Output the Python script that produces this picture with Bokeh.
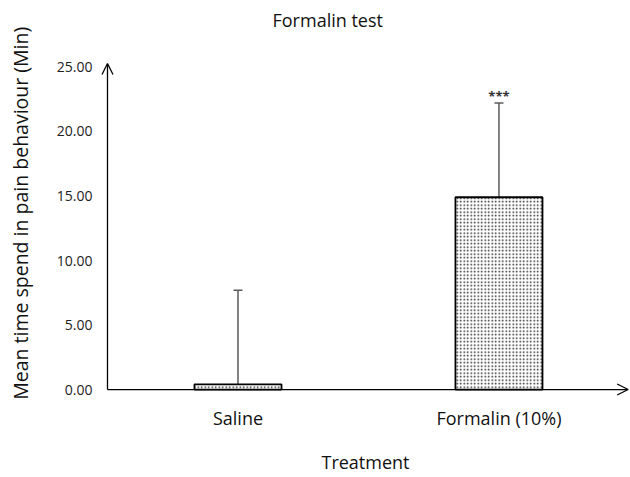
from bokeh.plotting import figure
from bokeh.models import (ColumnDataSource, Whisker, TeeHead, Arrow, OpenHead,
                          FixedTicker, Range1d, Title)
from bokeh.core.properties import value
from bokeh.embed import file_html
from bokeh.resources import INLINE

categories = ["Saline", "Formalin (10%)"]
positions = [1.0, 3.0]
means = [0.4, 14.9]
errors = [7.3, 7.3]
significance = ["", "***"]
y_ticks = [0, 5, 10, 15, 20, 25]
title_text = "Formalin test"
x_title = "Treatment"
y_title = "Mean time spend in pain behaviour (Min)"

FONT = "Open Sans"

src = ColumnDataSource(dict(
    x=positions, top=means,
    upper=[m + e for m, e in zip(means, errors)],
    star_y=[m + e - 0.15 for m, e in zip(means, errors)],
    sig=significance,
))

p = figure(width=630, height=477, output_backend="svg", toolbar_location=None,
           x_range=Range1d(-0.0536, 4.008), y_range=Range1d(-0.54, 25.5),
           min_border_left=100, min_border_right=0, min_border_top=60,
           min_border_bottom=81)
p.outline_line_color = None
p.grid.grid_line_color = None
p.background_fill_color = "white"

p.vbar(x="x", top="top", width=0.667, bottom=0, source=src,
       fill_color="white", line_color="black", line_width=1.8,
       hatch_pattern="dot", hatch_color="#222222", hatch_scale=3.5,
       hatch_weight=1.1)

w = Whisker(base="x", upper="upper", lower="top", source=src,
            line_color="#5a5a5a", line_width=1.5,
            upper_head=TeeHead(size=9, line_color="#5a5a5a", line_width=1.5),
            lower_head=None)
p.add_layout(w)

p.text(x="x", y="star_y", text="sig", source=src, text_align="center",
       text_baseline="bottom", text_font=value(FONT), text_font_size="13px",
       text_font_style="bold", text_color="#333333")

# axes arrows
p.add_layout(Arrow(x_start=0, y_start=0, x_end=0, y_end=25.27,
                   line_color="black", line_width=1.3,
                   end=OpenHead(size=11, line_color="black", line_width=1.3)))
p.add_layout(Arrow(x_start=0, y_start=0, x_end=3.99, y_end=0,
                   line_color="black", line_width=1.3,
                   end=OpenHead(size=11, line_color="black", line_width=1.3)))

# y axis
p.yaxis.ticker = FixedTicker(ticks=y_ticks)
p.yaxis.major_label_overrides = {t: f"{t:.2f}" for t in y_ticks}
p.yaxis.axis_line_color = None
p.yaxis.major_tick_line_color = None
p.yaxis.minor_tick_line_color = None
p.yaxis.major_tick_out = 0
p.yaxis.major_tick_in = 0
p.yaxis.major_label_standoff = 8
p.yaxis.major_label_text_font = FONT
p.yaxis.major_label_text_font_size = "14px"
p.yaxis.major_label_text_color = "#222222"
p.yaxis.axis_label = "\u00a0" * 6 + y_title
p.yaxis.axis_label_text_font = FONT
p.yaxis.axis_label_text_font_size = "19.5px"
p.yaxis.axis_label_text_font_style = "normal"
p.yaxis.axis_label_text_color = "#111111"
p.yaxis.axis_label_standoff = 20

# x axis
p.xaxis.ticker = FixedTicker(ticks=positions)
p.xaxis.major_label_overrides = {pos: c for pos, c in zip(positions, categories)}
p.xaxis.axis_line_color = None
p.xaxis.major_tick_line_color = None
p.xaxis.minor_tick_line_color = None
p.xaxis.major_tick_out = 0
p.xaxis.major_tick_in = 0
p.xaxis.major_label_standoff = 9
p.xaxis.major_label_text_font = FONT
p.xaxis.major_label_text_font_size = "18px"
p.xaxis.major_label_text_color = "#111111"
p.xaxis.axis_label = x_title
p.xaxis.axis_label_text_font = FONT
p.xaxis.axis_label_text_font_size = "18px"
p.xaxis.axis_label_text_font_style = "normal"
p.xaxis.axis_label_text_color = "#111111"
p.xaxis.axis_label_standoff = 17

p.title.text = title_text
p.title.text_font = FONT
p.title.text_font_size = "18px"
p.title.text_font_style = "normal"
p.title.text_color = "#111111"
p.title.align = "left"
p.title.offset = 172
p.above.insert(0, Title(text=" ", text_font_size="10.5px"))

open("out.html", "w").write(file_html(p, INLINE))
